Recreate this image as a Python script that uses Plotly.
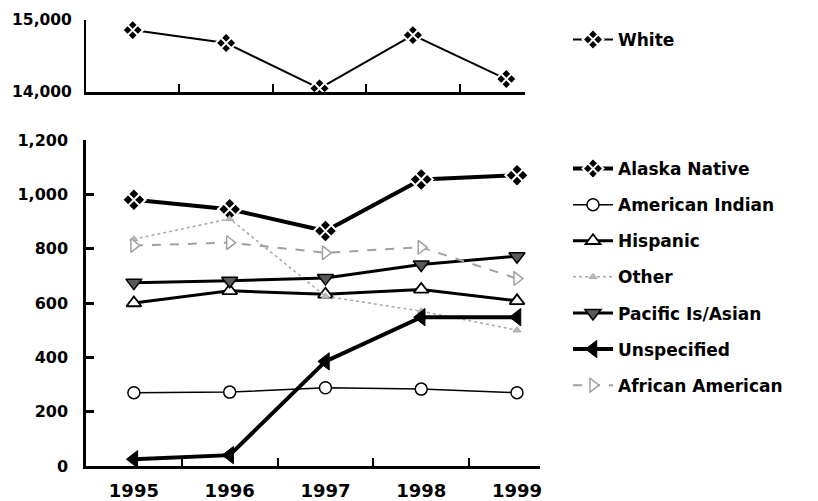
"""Enrollment by ethnicity, 1995-1999: two-panel line chart."""

import plotly.graph_objects as go

years = ["1995", "1996", "1997", "1998", "1999"]

white = [14860, 14680, 14050, 14790, 14180]

alaska_native = [980, 945, 865, 1055, 1070]
american_indian = [270, 272, 288, 283, 270]
hispanic = [600, 645, 632, 650, 608]
other = [835, 910, 625, 570, 500]
pacific_asian = [675, 682, 692, 742, 772]
unspecified = [25, 40, 385, 548, 548]
african_american = [812, 822, 785, 805, 690]

FONT = "DejaVu Sans"

# the page body adds an 8px margin, so the figure is drawn 8px in
OFF = 8
W, H = 818 - OFF, 501 - OFF


def px(x):
    return (x - OFF) / W


def py(y):
    return 1 - (y - OFF) / H


fig = go.Figure()

# lower panel series: (name, values, line, marker)
lower = [
    ("Alaska Native", alaska_native,
     dict(color="black", width=4),
     dict(symbol="diamond-x", size=18, color="black", line=dict(color="white", width=2))),
    ("American Indian", american_indian,
     dict(color="black", width=1.5),
     dict(symbol="circle", size=12, color="white", line=dict(color="black", width=1.5))),
    ("Hispanic", hispanic,
     dict(color="black", width=3),
     dict(symbol="triangle-up", size=13, color="white", line=dict(color="black", width=1.8))),
    ("Other", other,
     dict(color="#a8a8a8", width=1.5, dash="dot"),
     dict(symbol="triangle-up", size=7, color="#bbbbbb", line=dict(color="#a8a8a8", width=1))),
    ("Pacific Is/Asian", pacific_asian,
     dict(color="black", width=3),
     dict(symbol="triangle-down", size=14, color="#5a5a5a", line=dict(color="black", width=1.5))),
    ("Unspecified", unspecified,
     dict(color="black", width=4),
     dict(symbol="triangle-left", size=15, color="black", line=dict(color="black", width=1))),
    ("African American", african_american,
     dict(color="#a0a0a0", width=2, dash="dash"),
     dict(symbol="triangle-right", size=12, color="white", line=dict(color="#a0a0a0", width=1.5))),
]

for i, (name, vals, line, marker) in enumerate(lower):
    fig.add_trace(go.Scatter(
        x=years, y=vals, name=name, mode="lines+markers",
        line=line, marker=marker, legend="legend2", legendgroup=f"g{i}",
        xaxis="x", yaxis="y",
    ))

fig.add_trace(go.Scatter(
    x=years, y=white, name="White", mode="lines+markers",
    line=dict(color="black", width=2),
    marker=dict(symbol="diamond-x", size=16, color="black", line=dict(color="white", width=2)),
    legend="legend", xaxis="x2", yaxis="y2",
))

axis_font = dict(family=FONT, size=16, color="black", weight="bold")
legend_font = dict(family=FONT, size=17, color="black", weight="bold")

fig.update_layout(
    width=W, height=H,
    margin=dict(l=0, r=0, t=0, b=0, autoexpand=False),
    plot_bgcolor="white", paper_bgcolor="white",
    font=dict(family=FONT, color="black"),
    xaxis=dict(
        type="category", domain=[px(86), px(540)], range=[-0.5, 4.24],
        anchor="y", showline=True, linecolor="black", linewidth=3,
        ticks="inside", tickson="boundaries", ticklen=8, tickwidth=2, tickcolor="black",
        showgrid=False, ticklabelstandoff=6,
        tickfont=dict(family=FONT, size=18, color="black", weight="bold"),
    ),
    yaxis=dict(
        domain=[py(466), py(140)], range=[0, 1200], anchor="x",
        tickvals=[0, 200, 400, 600, 800, 1000, 1200], tickformat=",",
        showline=True, linecolor="black", linewidth=2.5,
        ticks="inside", ticklen=8, tickwidth=2.5, tickcolor="black",
        showgrid=False, zeroline=False, ticklabelstandoff=12, tickfont=axis_font,
    ),
    xaxis2=dict(
        type="category", domain=[px(86), px(525)], range=[-0.5, 4.2],
        anchor="y2", showline=True, linecolor="black", linewidth=2.5,
        ticks="inside", tickson="boundaries", ticklen=8, tickwidth=2, tickcolor="black",
        showgrid=False, showticklabels=False,
    ),
    yaxis2=dict(
        domain=[py(92), py(20)], range=[14000, 15000], anchor="x2",
        tickvals=[14000, 15000], tickformat=",",
        showline=True, linecolor="black", linewidth=2,
        ticks="inside", ticklen=8, tickwidth=2, tickcolor="black",
        showgrid=False, zeroline=False, ticklabelstandoff=9,
        tickfont=dict(family=FONT, size=15.5, color="black", weight="bold"),
    ),
    legend=dict(
        x=px(568), y=py(22), xanchor="left", yanchor="top",
        font=legend_font, bgcolor="rgba(0,0,0,0)", itemwidth=40,
    ),
    legend2=dict(
        x=px(568), y=py(151), xanchor="left", yanchor="top",
        font=legend_font, bgcolor="rgba(0,0,0,0)", itemwidth=40, tracegroupgap=11,
    ),
    showlegend=True,
)

fig.write_html("out.html")
